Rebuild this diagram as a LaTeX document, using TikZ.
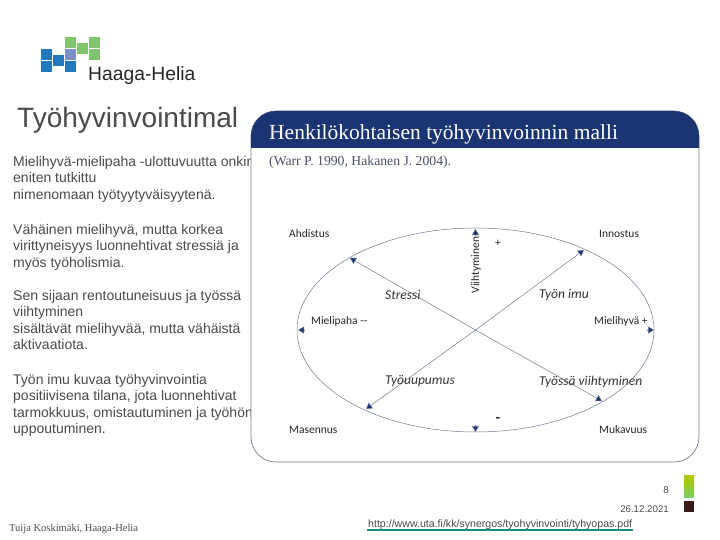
\documentclass[tikz,border=0pt]{standalone}
\usepackage{fontspec}
\setmainfont{Liberation Sans}
\newfontfamily\serifface{Liberation Serif}
\newfontfamily\labelface{Carlito}
\usetikzlibrary{arrows.meta}
\definecolor{hhnavy}{HTML}{1B3572}
\definecolor{hhblue}{HTML}{2178BE}
\definecolor{hhgreen}{HTML}{7FC56E}
\definecolor{hhmix}{HTML}{7B8FC8}
\definecolor{hhline}{HTML}{707C90}
\definecolor{bodygray}{HTML}{4A4A4A}
\definecolor{sourcegray}{HTML}{4A5068}
\definecolor{barlime}{HTML}{B5C800}
\definecolor{barleaf}{HTML}{78D060}
\definecolor{bardark}{HTML}{3A1A1A}
\definecolor{linkteal}{HTML}{109088}
\tikzset{
  bodytext/.style={anchor=north west, align=left, inner sep=0pt, text=bodygray, font=\fontsize{14}{16.4}\selectfont},
  modeltext/.style={anchor=west, inner sep=0pt, text=black!85, font=\labelface\fontsize{11.5}{13}\selectfont},
  modelname/.style={anchor=west, inner sep=0pt, text=black!80, font=\labelface\itshape\fontsize{13.5}{16}\selectfont},
  axisline/.style={draw=hhline, line width=0.5pt},
  axistip/.style={-{Triangle[length=6pt,width=7pt,fill=hhnavy]}, draw=hhline, line width=0.5pt},
}
\begin{document}
\begin{tikzpicture}[x=1pt,y=-1pt]
\useasboundingbox (0,0) rectangle (720,540);
\fill[white] (0,0) rectangle (720,540);
\fill[hhblue] (41,49) rectangle (52,60);
\fill[hhblue] (41,61) rectangle (52,72);
\fill[hhblue] (53,55) rectangle (64,66);
\fill[hhblue] (65,61) rectangle (76,72);
\fill[hhmix] (65,49) rectangle (76,60);
\fill[hhgreen] (65,37) rectangle (76,48);
\fill[hhgreen] (77,43) rectangle (88,54);
\fill[hhgreen] (89,37) rectangle (100,48);
\fill[hhgreen] (89,49) rectangle (100,60);
\node[anchor=west, inner sep=0pt, text=black!85, font=\fontsize{19.3}{22}\selectfont] (brand) at (88,76) {Haaga-Helia};
\node[anchor=west, inner sep=0pt, text=bodygray, font=\fontsize{28}{30}\selectfont] (title) at (17,120) {Työhyvinvointimal};
\node[bodytext] (para1) at (13,156) {Mielihyvä-mielipaha -ulottuvuutta onkin\\eniten tutkittu\\nimenomaan työtyytyväisyytenä.};
\node[bodytext] (para2) at (13,224) {Vähäinen mielihyvä, mutta korkea\\virittyneisyys luonnehtivat stressiä ja\\myös työholismia.};
\node[bodytext] (para3) at (13,290) {Sen sijaan rentoutuneisuus ja työssä\\viihtyminen\\sisältävät mielihyvää, mutta vähäistä\\aktivaatiota.};
\node[bodytext] (para4) at (13,374) {Työn imu kuvaa työhyvinvointia\\positiivisena tilana, jota luonnehtivat\\tarmokkuus, omistautuminen ja työhön\\uppoutuminen.};
\draw[hhline, fill=white, line width=0.7pt, rounded corners=25pt] (251,111) rectangle (699,462);
\fill[hhnavy] (251,148) -- (251,136) arc[start angle=180, end angle=270, radius=25] -- (674,111) arc[start angle=270, end angle=360, radius=25] -- (699,148) -- cycle;
\node[anchor=west, inner sep=0pt, text=white, font=\serifface\fontsize{21.5}{24}\selectfont] (head) at (269,134) {Henkilökohtaisen työhyvinvoinnin malli};
\node[anchor=west, inner sep=0pt, text=sourcegray, font=\serifface\fontsize{13.7}{15}\selectfont] (source) at (269,162) {(Warr P. 1990, Hakanen J. 2004).};
\draw[axisline] (475.5,330) ellipse[x radius=178.5, y radius=102];
\coordinate (topend) at (475.5,229);
\coordinate (topstem) at (475.5,236);
\coordinate (botend) at (475.5,432);
\coordinate (botstem) at (475.5,425);
\coordinate (leftend) at (298,330);
\coordinate (leftstem) at (305,330);
\coordinate (rightend) at (654,330);
\coordinate (rightstem) at (647,330);
\coordinate (nwend) at (350,258);
\coordinate (seend) at (602,401);
\coordinate (neend) at (584,250);
\coordinate (swend) at (366,409);
\coordinate (hub) at (475.5,330);
\draw[axistip] (hub) -- (nwend);
\draw[axistip] (hub) -- (seend);
\draw[axistip] (hub) -- (neend);
\draw[axistip] (hub) -- (swend);
\draw[axistip] (topstem) -- (topend);
\draw[axistip] (botstem) -- (botend);
\draw[axistip] (leftstem) -- (leftend);
\draw[axistip] (rightstem) -- (rightend);
\node[modeltext] (ahdistus) at (289,234) {Ahdistus};
\node[modeltext] (innostus) at (599,234) {Innostus};
\node[modeltext] (mielipaha) at (311,321) {Mielipaha --};
\node[modeltext] (mielihyva) at (594,321) {Mielihyvä +};
\node[modeltext] (masennus) at (289,430) {Masennus};
\node[modeltext] (mukavuus) at (599,430) {Mukavuus};
\node[modeltext, anchor=center, rotate=90] (viihtyminen) at (476,265) {Viihtyminen};
\node[modeltext, anchor=center] (plus) at (498,243) {+};
\node[modeltext, anchor=center, font=\labelface\bfseries\fontsize{15}{16}\selectfont] (minus) at (498,420) {-};
\node[modelname] (stressi) at (385,294.5) {Stressi};
\node[modelname] (imu) at (539,294.5) {Työn imu};
\node[modelname] (uupumus) at (385,381.5) {Työuupumus};
\node[modelname] (viihtyy) at (539,381.5) {Työssä viihtyminen};
\node[anchor=east, inner sep=0pt, text=bodygray, font=\fontsize{9.7}{11}\selectfont] (pagenum) at (669,490) {8};
\node[anchor=east, inner sep=0pt, text=bodygray, font=\fontsize{9.7}{11}\selectfont] (pagedate) at (669,509) {26.12.2021};
\node[anchor=west, inner sep=0pt, text=bodygray, font=\serifface\fontsize{10.5}{12}\selectfont] (author) at (9,528.5) {Tuija Koskimäki, Haaga-Helia};
\node[anchor=west, inner sep=0pt, text=bodygray, font=\fontsize{10.6}{12}\selectfont] (link) at (368,524.5) {http://www.uta.fi/kk/synergos/tyohyvinvointi/tyhyopas.pdf};
\coordinate (linkleft) at (367,530);
\coordinate (linkright) at (633,530);
\draw[linkteal, line width=1.5pt] (linkleft) -- (linkright);
\shade[top color=barlime, bottom color=barleaf] (684,475) rectangle (694,497);
\fill[bardark] (684,501) rectangle (694,512);
\end{tikzpicture}
\end{document}
